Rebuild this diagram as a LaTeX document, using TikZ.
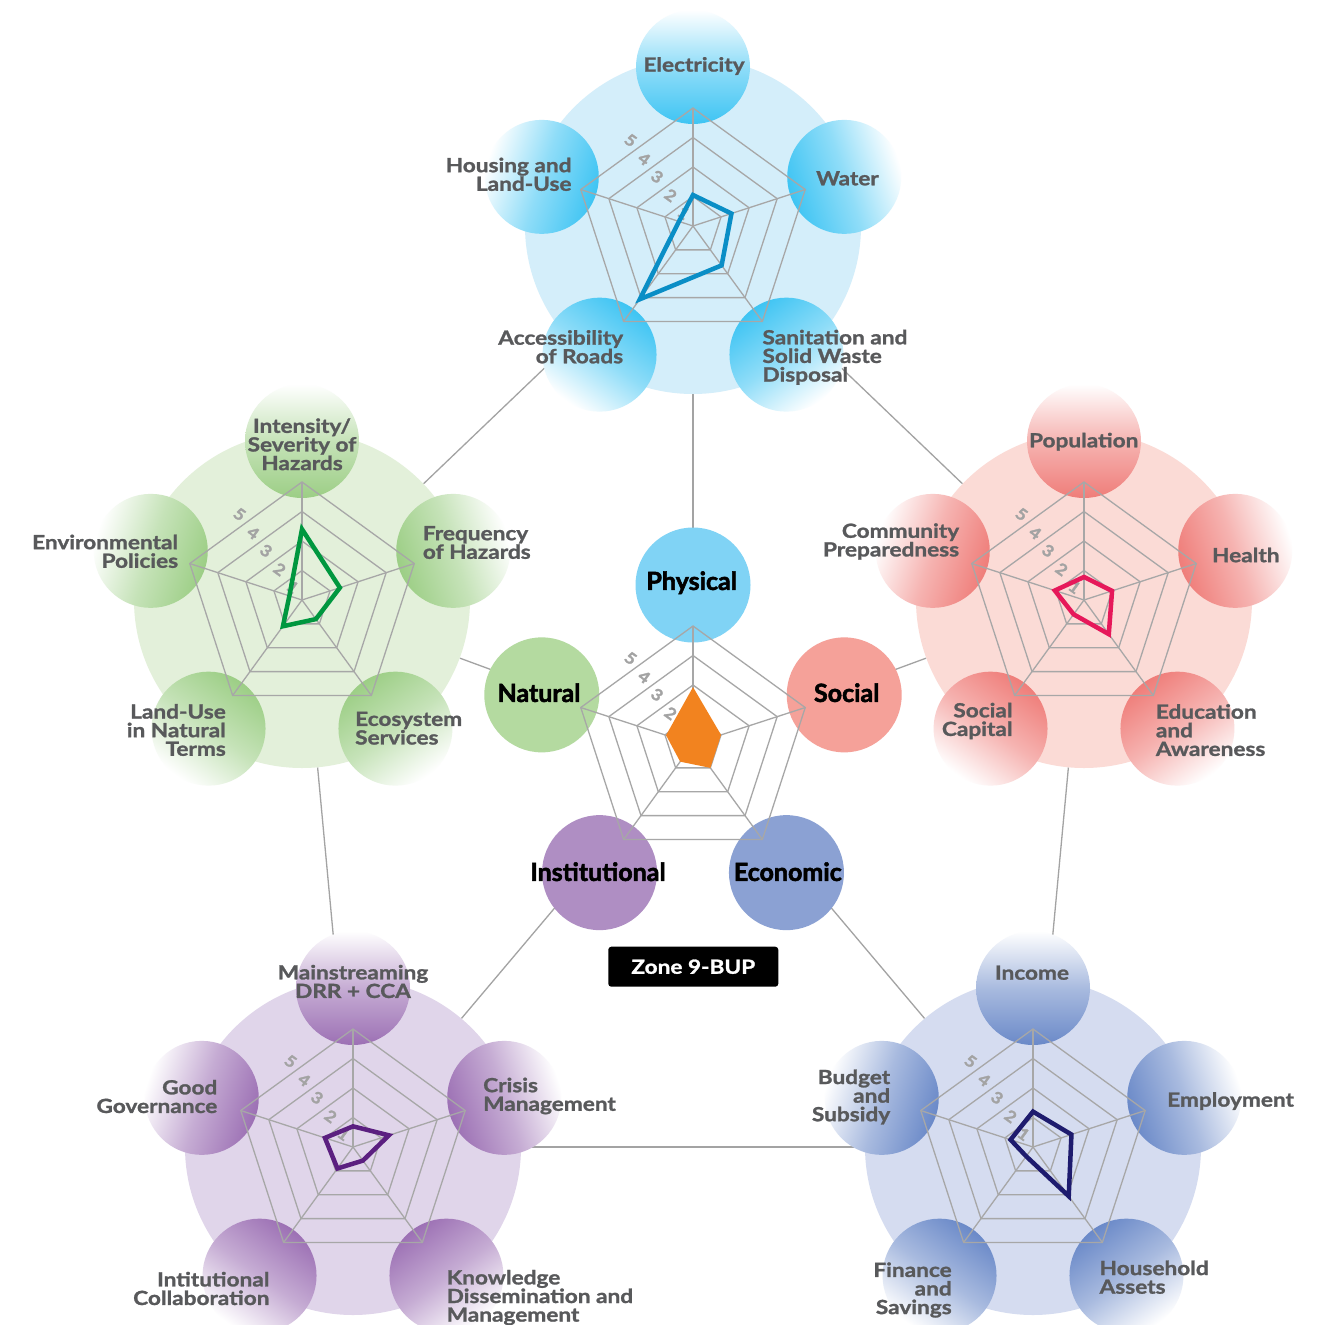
\documentclass[tikz,border=0pt]{standalone}
\usepackage{fontspec}
\usetikzlibrary{backgrounds}
\newfontfamily\lblfont{Lato}[FakeStretch=1.16, FakeBold=1.3]
\newfontfamily\tickface{Lato}[FakeStretch=1.1, FakeBold=1.8]
\newfontfamily\headfont{Lato}[FakeBold=2.2]
\setlength{\lineskiplimit}{-50pt}
\newcommand\itemfont{\lblfont\bfseries\fontsize{19.5}{18.6}\selectfont}
\newcommand\tickfont{\tickface\bfseries\fontsize{16}{16}\selectfont}
\newcommand\headsize{\headfont\bfseries\fontsize{25}{25}\selectfont}

\definecolor{phyBg}{HTML}{D4EEFA}
\definecolor{phySub}{HTML}{3EC4F3}
\definecolor{phyMain}{HTML}{80D3F5}
\definecolor{phyData}{HTML}{0A8EC6}
\definecolor{natBg}{HTML}{E3F0DA}
\definecolor{natSub}{HTML}{9CCE85}
\definecolor{natMain}{HTML}{B4DAA0}
\definecolor{natData}{HTML}{00973F}
\definecolor{socBg}{HTML}{FBDBD6}
\definecolor{socSub}{HTML}{EF7D79}
\definecolor{socMain}{HTML}{F5A199}
\definecolor{socData}{HTML}{E6185A}
\definecolor{insBg}{HTML}{E0D5EA}
\definecolor{insSub}{HTML}{9C70B4}
\definecolor{insMain}{HTML}{AF8EC3}
\definecolor{insData}{HTML}{5B1F80}
\definecolor{ecoBg}{HTML}{D5DCF0}
\definecolor{ecoSub}{HTML}{6A89C8}
\definecolor{ecoMain}{HTML}{8BA1D3}
\definecolor{ecoData}{HTML}{1E1B6E}
\definecolor{orangeFill}{HTML}{F2831F}
\definecolor{gridGrey}{HTML}{A7A7A7}
\definecolor{linkGrey}{HTML}{A3A3A3}
\definecolor{labelGrey}{HTML}{58595B}
\definecolor{tickGrey}{HTML}{A3A3A3}

\tikzset{
  bigdisc/.style={circle, inner sep=0pt, minimum size=336pt, draw=none},
  maindisc/.style={circle, inner sep=0pt, minimum size=115pt, draw=none},
  subdisc/.style 2 args={circle, inner sep=0pt, minimum size=114pt, draw=none,
    top color=white, bottom color=#1, middle color=#1!58, shading angle=#2},
  radargrid/.style={draw=gridGrey, line width=1.3pt},
  link/.style={draw=linkGrey, line width=1.3pt},
  datapoly/.style={line width=4.5pt, line join=miter},
  ticklbl/.style={font=\tickfont, text=tickGrey, rotate=-36, inner sep=0pt},
  itemlbl/.style={font=\itemfont, text=labelGrey, inner sep=0pt},
  headlbl/.style={font=\headsize, text=black, inner sep=0pt},
  zonebox/.style={fill=black, rounded corners=3pt, minimum width=170pt, minimum height=40pt,
    text=white, font=\itemfont, inner sep=0pt},
}

% five-axis grid: rings for scores 2..5, score 1 at the centre
\newcommand\radarGrid{%
  \foreach \ring in {29.5,59,88.5,118}{%
    \draw[radargrid] (-90:\ring) -- (-18:\ring) -- (54:\ring) -- (126:\ring) -- (198:\ring) -- cycle;}%
  \foreach \axang in {-90,-18,54,126,198}{\draw[radargrid] (0,0) -- (\axang:118);}%
  \foreach \lvl/\dist in {1/16,2/38,3/61,4/83,5/106}{\node[ticklbl] at (-126:\dist) {\lvl};}%
}
% scores clockwise from the top axis
\newcommand\radarData[6]{%
  \draw[datapoly, draw=#1] (-90:{(#2-1)*29.5}) -- (-18:{(#3-1)*29.5}) -- (54:{(#4-1)*29.5})
    -- (126:{(#5-1)*29.5}) -- (198:{(#6-1)*29.5}) -- cycle;}

\begin{document}
\begin{tikzpicture}[x=1pt, y=-1pt]
\useasboundingbox (0,0) rectangle (1324,1325);
\clip (0,0) rectangle (1324,1325);

% ---------- Physical cluster ----------
\begin{scope}[shift={(693,226)}]
  \node[bigdisc, fill=phyBg] (phyBig) at (0,0) {};
  \node[subdisc={phySub}{0}]    (phyElec)  at (-90:159) {};
  \node[subdisc={phySub}{-72}]  (phyWater) at (-18:159) {};
  \node[subdisc={phySub}{-144}] (phySan)   at (54:159) {};
  \node[subdisc={phySub}{-216}] (phyRoad)  at (126:159) {};
  \node[subdisc={phySub}{-288}] (phyHouse) at (198:159) {};
  \radarGrid
  \radarData{phyData}{2.05}{2.37}{2.65}{4.07}{1.5}
\end{scope}

% ---------- Natural cluster ----------
\begin{scope}[shift={(302,600)}]
  \node[bigdisc, fill=natBg] (natBig) at (0,0) {};
  \node[subdisc={natSub}{0}]    (natInt)  at (-90:159) {};
  \node[subdisc={natSub}{-72}]  (natFreq) at (-18:159) {};
  \node[subdisc={natSub}{-144}] (natEco)  at (54:159) {};
  \node[subdisc={natSub}{-216}] (natLand) at (126:159) {};
  \node[subdisc={natSub}{-288}] (natEnv)  at (198:159) {};
  \radarGrid
  \radarData{natData}{3.4}{2.35}{1.8}{2.1}{1.45}
\end{scope}

% ---------- Social cluster ----------
\begin{scope}[shift={(1084,600)}]
  \node[bigdisc, fill=socBg] (socBig) at (0,0) {};
  \node[subdisc={socSub}{0}]    (socPop)    at (-90:159) {};
  \node[subdisc={socSub}{-72}]  (socHealth) at (-18:159) {};
  \node[subdisc={socSub}{-144}] (socEdu)    at (54:159) {};
  \node[subdisc={socSub}{-216}] (socCap)    at (126:159) {};
  \node[subdisc={socSub}{-288}] (socComm)   at (198:159) {};
  \radarGrid
  \radarData{socData}{1.78}{2.0}{2.43}{1.6}{2.04}
\end{scope}

% ---------- Institutional cluster ----------
\begin{scope}[shift={(353,1147)}]
  \node[bigdisc, fill=insBg] (insBig) at (0,0) {};
  \node[subdisc={insSub}{0}]    (insMain)   at (-90:159) {};
  \node[subdisc={insSub}{-72}]  (insCrisis) at (-18:159) {};
  \node[subdisc={insSub}{-144}] (insKnow)   at (54:159) {};
  \node[subdisc={insSub}{-216}] (insCollab) at (126:159) {};
  \node[subdisc={insSub}{-288}] (insGov)    at (198:159) {};
  \radarGrid
  \radarData{insData}{1.7}{2.28}{1.57}{1.9}{2.0}
\end{scope}

% ---------- Economic cluster ----------
\begin{scope}[shift={(1033,1147)}]
  \node[bigdisc, fill=ecoBg] (ecoBig) at (0,0) {};
  \node[subdisc={ecoSub}{0}]    (ecoIncome) at (-90:159) {};
  \node[subdisc={ecoSub}{-72}]  (ecoEmploy) at (-18:159) {};
  \node[subdisc={ecoSub}{-144}] (ecoAssets) at (54:159) {};
  \node[subdisc={ecoSub}{-216}] (ecoFin)    at (126:159) {};
  \node[subdisc={ecoSub}{-288}] (ecoBudget) at (198:159) {};
  \radarGrid
  \radarData{ecoData}{2.2}{2.37}{3.06}{1.39}{1.8}
\end{scope}

% ---------- Summary chart ----------
\coordinate (hub) at (693,744);
\begin{scope}[shift={(693,744)}]
  \fill[white] (-90:118) -- (-18:118) -- (54:118) -- (126:118) -- (198:118) -- cycle;
  \node[maindisc, fill=phyMain] (physical)      at (-90:159) {};
  \node[maindisc, fill=socMain] (social)        at (-18:159) {};
  \node[maindisc, fill=ecoMain] (economic)      at (54:159) {};
  \node[maindisc, fill=insMain] (institutional) at (126:159) {};
  \node[maindisc, fill=natMain] (natural)       at (198:159) {};
  \radarGrid
  \fill[orangeFill] (-90:{1.93*29.5}) -- (-18:{1.0*29.5}) -- (54:{1.0*29.5})
    -- (126:{0.74*29.5}) -- (198:{0.96*29.5}) -- cycle;
\end{scope}

% ---------- connectors ----------
\begin{scope}[on background layer]
  \fill[white] (0,0) rectangle (1324,1325);
  \draw[link] (phyBig) -- (natBig);
  \draw[link] (phyBig) -- (socBig);
  \draw[link] (natBig) -- (insBig);
  \draw[link] (socBig) -- (ecoBig);
  \draw[link] (insBig) -- (ecoBig);
  \draw[link] (hub) -- (phyBig);
  \draw[link] (hub) -- (natBig);
  \draw[link] (hub) -- (socBig);
  \draw[link] (hub) -- (insBig);
  \draw[link] (hub) -- (ecoBig);
\end{scope}

% ---------- indicator labels ----------
\node[itemlbl] (tElec) at (694,66) {Electricity};
\node[itemlbl] (tWater) at (847.5,178.3) {Water};
\node[itemlbl, anchor=west, align=left] (tSan) at (762.3,357.3) {Sanitation and\\Solid Waste\\Disposal};
\node[itemlbl, anchor=east, align=right] (tRoad) at (623.3,346.8) {Accessibility\\of Roads};
\node[itemlbl, anchor=east, align=right] (tHouse) at (571.7,174.3) {Housing and\\Land-Use};

\node[itemlbl, align=center] (tInt) at (302,444.3) {Intensity/\\Severity of\\Hazards};
\node[itemlbl, anchor=west, align=left] (tFreq) at (422.7,542.5) {Frequency\\of Hazards};
\node[itemlbl, anchor=east, align=right] (tEnv) at (178.3,551.3) {Environmental\\Policies};
\node[itemlbl, anchor=east, align=right] (tLand) at (226,730) {Land-Use\\in Natural\\Terms};
\node[itemlbl, anchor=west, align=left] (tEco) at (355,728.2) {Ecosystem\\Services};

\node[itemlbl] (tPop) at (1083.7,441.7) {Population};
\node[itemlbl] (tHealth) at (1245.8,555) {Health};
\node[itemlbl, anchor=east, align=right] (tComm) at (959.3,541.5) {Community\\Preparedness};
\node[itemlbl, anchor=east, align=right] (tSocCap) at (1012.7,721) {Social\\Capital};
\node[itemlbl, anchor=west, align=left] (tEdu) at (1155.7,730.1) {Education\\and\\Awareness};

\node[itemlbl, align=center] (tMain) at (353,981.5) {Mainstreaming\\DRR + CCA};
\node[itemlbl, anchor=west, align=left] (tCrisis) at (483,1096) {Crisis\\Management};
\node[itemlbl, anchor=west, align=left] (tKnow) at (446.5,1297.5) {Knowledge\\Dissemination and\\Management};
\node[itemlbl, anchor=east, align=right] (tCollab) at (269.6,1288.5) {Intitutional\\Collaboration};
\node[itemlbl, anchor=east, align=right] (tGov) at (217.5,1096.5) {Good\\Governance};

\node[itemlbl] (tIncome) at (1032,972.7) {Income};
\node[itemlbl, anchor=west] (tEmploy) at (1167,1101) {Employment};
\node[itemlbl, anchor=west, align=left] (tHouseh) at (1099.4,1277.2) {Household\\Assets};
\node[itemlbl, anchor=east, align=right] (tFin) at (951.9,1290) {Finance\\and\\Savings};
\node[itemlbl, anchor=east, align=right] (tBudget) at (890.4,1097) {Budget\\and\\Subsidy};

% ---------- dimension labels ----------
\node[headlbl] (hPhys) at (691.7,582.7) {Physical};
\node[headlbl] (hNat) at (539,692.7) {Natural};
\node[headlbl] (hSoc) at (846.7,692.7) {Social};
\node[headlbl] (hIns) at (598,871.7) {Institutional};
\node[headlbl] (hEco) at (787.8,871.7) {Economic};

\node[zonebox] (zone) at (693.3,966.7) {Zone 9-BUP};
\end{tikzpicture}
\end{document}
